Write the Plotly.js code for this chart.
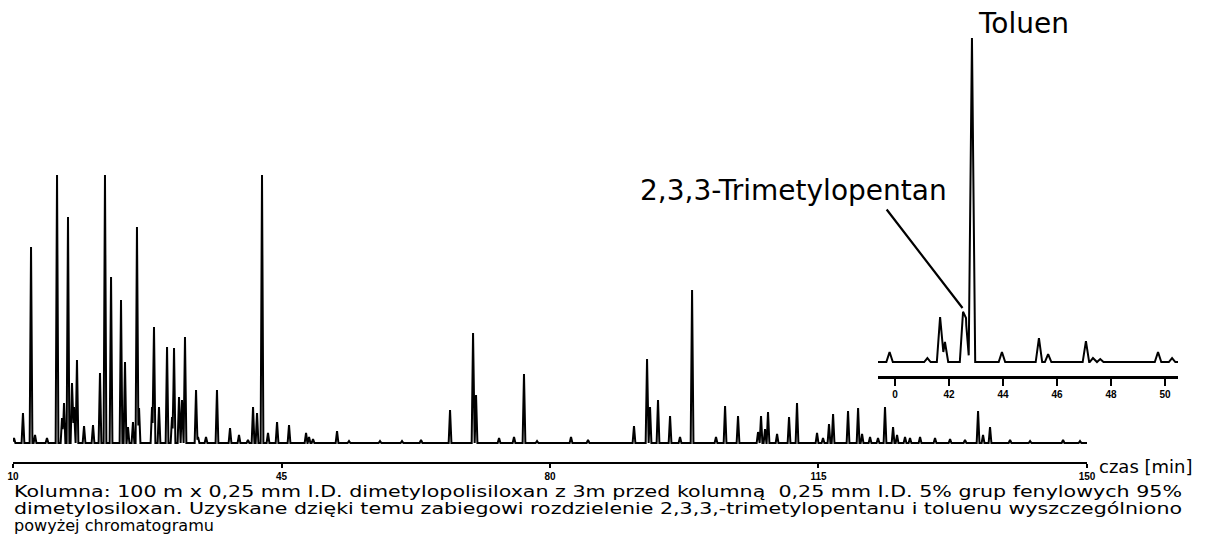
<!DOCTYPE html>
<html>
<head>
<meta charset="utf-8">
<script src="https://cdn.plot.ly/plotly-3.0.1.min.js"></script>
<style>html,body{margin:0;padding:0;background:#fff;}#chart{width:1206px;height:546px;}</style>
</head>
<body>
<div id="chart"></div>
<script>
// ---- Main chromatogram: retention times [min] and peak heights (arbitrary units) ----
const mainTimes = [10.13,11.30,12.35,12.87,14.43,15.74,16.39,16.65,17.17,17.69,17.95,18.34,19.26,20.43,21.34,21.99,22.78,24.08,24.60,24.99,25.64,26.16,26.43,28.12,28.38,29.03,30.08,30.73,30.99,31.64,32.03,32.42,33.86,34.12,35.16,36.59,38.29,39.46,40.63,41.29,41.81,42.46,43.24,44.42,45.98,48.20,48.59,49.11,52.24,53.80,57.84,60.71,63.19,66.97,69.97,70.36,73.36,75.31,76.61,78.31,82.74,84.96,90.95,92.65,93.04,94.08,95.65,96.95,98.52,101.64,102.82,104.51,107.12,107.51,108.03,108.42,109.60,111.16,112.20,114.81,115.59,116.37,116.90,118.85,120.16,120.68,121.72,122.76,123.67,124.72,125.24,126.28,126.93,128.24,130.19,132.15,134.10,135.80,136.45,137.36,139.97,142.58,146.88,149.09];
const mainHeights = [5,30,196,8,5,268,25,40,226,60,36,83,17,18,70,268,166,143,81,16,21,216,35,36,116,36,96,26,95,46,43,106,53,6,6,53,15,8,3,36,30,268,10,21,18,10,6,4,12,2,2,2,3,33,110,48,5,6,69,2,6,3,17,84,36,43,27,6,153,6,37,27,11,27,14,31,9,26,40,10,5,19,29,32,35,9,6,5,36,16,8,6,5,6,5,4,3,32,8,16,3,2,3,2];
const mainTickVals = [10,45,80,115,150];
const mainTickText = ["10","45","80","115","150"];

// ---- Inset (expanded region): retention times [min] and heights ----
const insetTimes = [39.80,41.20,41.67,41.85,42.52,42.63,42.85,43.96,45.33,45.67,47.07,47.33,47.60,49.74,50.26];
const insetHeights = [10,4,45,20,47,40,324,10,24,8,21,4,3,10,4];
const insetTickVals = [40,42,44,46,48,50];
const insetTickText = ["0","42","44","46","48","50"];

// ---- Texts ----
const labelToluen = "Toluen";
const labelTMP = "2,3,3-Trimetylopentan";
const xTitle = "czas [min]";
const captionLines = [
  "Kolumna: 100 m x 0,25 mm I.D. dimetylopolisiloxan z 3m przed kolumną  0,25 mm I.D. 5% grup fenylowych 95%",
  "dimetylosiloxan. Uzyskane dzięki temu zabiegowi rozdzielenie 2,3,3,-trimetylopentanu i toluenu wyszczególniono",
  "powyżej chromatogramu"
];

// Build a piecewise-linear chromatogram line from the peak list (sum of narrow triangular peaks)
function buildTrace(times, heights, halfWidth, xmin, xmax) {
  const verts = [xmin, xmax];
  times.forEach(t => { verts.push(t - halfWidth, t, t + halfWidth); });
  verts.sort((a, b) => a - b);
  const xs = [], ys = [];
  verts.forEach(x => {
    if (x < xmin || x > xmax) return;
    let y = 0;
    for (let i = 0; i < times.length; i++) {
      const d = Math.abs(x - times[i]);
      if (d < halfWidth) y += heights[i] * (1 - d / halfWidth);
    }
    xs.push(x); ys.push(y);
  });
  return {x: xs, y: ys};
}

const m = buildTrace(mainTimes, mainHeights, 0.18, 10, 150);
const ins = buildTrace(insetTimes, insetHeights, 0.12, 39.37, 50.48);

const traces = [
  {type: 'scatter', mode: 'lines', x: m.x, y: m.y, xaxis: 'x', yaxis: 'y',
   line: {color: '#000', width: 2}, hoverinfo: 'skip'},
  {type: 'scatter', mode: 'lines', x: ins.x, y: ins.y, xaxis: 'x2', yaxis: 'y2',
   line: {color: '#000', width: 2}, hoverinfo: 'skip'}
];

const tickFont = {family: 'Liberation Sans, Arial, sans-serif', size: 10, color: '#000', weight: 'bold'};
const txtFont = {family: 'DejaVu Sans, sans-serif', color: '#000'};

// caption lines: [paper y, target width in px]
const captionPos = [[-0.0694, 1168], [-0.1088, 1168], [-0.1481, 200]];

const annotations = [
  {xref: 'paper', yref: 'paper', x: 0.8655, y: 1.0139, text: labelToluen, showarrow: false,
   xanchor: 'center', yanchor: 'middle', font: Object.assign({size: 28}, txtFont)},
  {xref: 'paper', yref: 'paper', x: 0.669, y: 0.6296, text: labelTMP, showarrow: false,
   xanchor: 'center', yanchor: 'middle', font: Object.assign({size: 28}, txtFont)},
  {xref: 'x2', yref: 'y2', x: 42.5, y: 54, text: '', showarrow: true, arrowhead: 0,
   arrowwidth: 2.2, arrowcolor: '#000', ax: -77, ay: -100, standoff: 0, startstandoff: 0},
  {xref: 'paper', yref: 'paper', x: 0.9289, y: -0.0093, text: xTitle, showarrow: false,
   xanchor: 'left', yanchor: 'middle', font: Object.assign({size: 18}, txtFont)}
];
captionLines.forEach((s, i) => {
  annotations.push({xref: 'paper', yref: 'paper', x: -0.001, y: captionPos[i][0], text: s,
    showarrow: false, xanchor: 'left', yanchor: 'middle', align: 'left',
    font: Object.assign({size: 15}, txtFont)});
});

const layout = {
  width: 1206, height: 546,
  margin: {l: 13, r: 26, t: 30, b: 84, pad: 0},
  paper_bgcolor: '#fff', plot_bgcolor: '#fff',
  showlegend: false,
  xaxis: {domain: [0, 0.9203], range: [10, 150], anchor: 'y',
    showline: true, linewidth: 2, linecolor: '#000', mirror: false,
    ticks: 'outside', ticklen: 4, tickwidth: 2, tickcolor: '#000',
    tickmode: 'array', tickvals: mainTickVals, ticktext: mainTickText,
    tickfont: tickFont, showgrid: false, zeroline: false},
  yaxis: {domain: [0, 1], range: [-19, 413], visible: false, showgrid: false, zeroline: false},
  xaxis2: {domain: [0.7412, 0.9983], range: [39.37, 50.48], anchor: 'y2',
    showline: true, linewidth: 3, linecolor: '#000',
    ticks: 'outside', ticklen: 7, tickwidth: 2, tickcolor: '#000',
    tickmode: 'array', tickvals: insetTickVals, ticktext: insetTickText,
    tickfont: tickFont, showgrid: false, zeroline: false},
  yaxis2: {domain: [0.199, 1], range: [-14, 332], anchor: 'x2', visible: false, showgrid: false, zeroline: false},
  annotations: annotations
};

Plotly.newPlot('chart', traces, layout, {staticPlot: true, displayModeBar: false}).then(gd => {
  // stretch the justified caption lines to the reference line length
  const nFixed = 4;
  captionLines.forEach((s, i) => {
    const g = gd.querySelector('.annotation[data-index="' + (nFixed + i) + '"] text.annotation-text');
    if (g) {
      g.setAttribute('textLength', captionPos[i][1]);
      g.setAttribute('lengthAdjust', 'spacingAndGlyphs');
    }
  });
});
</script>
</body>
</html>
